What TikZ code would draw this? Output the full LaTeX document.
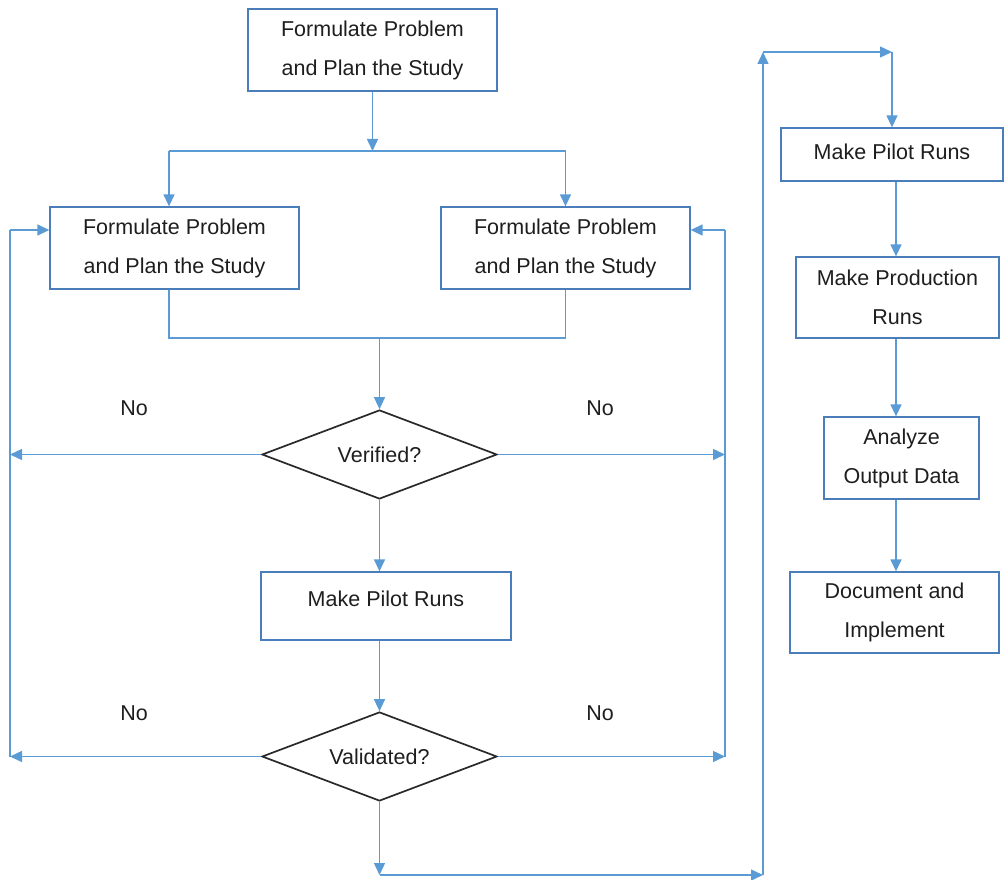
\documentclass[tikz,border=0pt]{standalone}
\usepackage{fontspec}
\setmainfont{Liberation Sans}
\usetikzlibrary{arrows.meta,shapes.geometric}
\definecolor{boxblue}{HTML}{4A7EBB}
\definecolor{linkblue}{HTML}{5B9BD5}
\definecolor{inkgray}{HTML}{1E1E1E}

\begin{document}
\begin{tikzpicture}[x=1pt,y=-1pt,
  every node/.style={font=\fontsize{21.5}{39}\selectfont, text=inkgray},
  stepbox/.style={draw=boxblue, line width=1.3pt, rectangle, inner sep=0pt, align=center},
  check/.style={draw=inkgray!95, line width=1.7pt, diamond, inner sep=0pt, shape aspect=2.64,
                minimum width=235pt, minimum height=89pt},
  link/.style={draw=linkblue, line width=1.4pt},
  flow/.style={link, -{Triangle[length=12pt,width=11pt]}}
]
\useasboundingbox (0,0) rectangle (1005,880);

% left-hand process column
\node[stepbox, minimum width=249pt, minimum height=82pt] (plan)  at (372.5,50)  {Formulate Problem\\and Plan the Study};
\node[stepbox, minimum width=249pt, minimum height=82pt] (planL) at (174.5,248) {Formulate Problem\\and Plan the Study};
\node[stepbox, minimum width=249pt, minimum height=82pt] (planR) at (565.5,248) {Formulate Problem\\and Plan the Study};
\node[check] (verif) at (379.5,454.5) {Verified?};
\node[stepbox, minimum width=250pt, text height=34pt, text depth=34pt] (pilotL) at (386,606) {Make Pilot Runs};
\node[check] (valid) at (379.5,756.5) {Validated?};

% right-hand process column
\node[stepbox, minimum width=222pt, minimum height=53pt, text depth=6pt] (pilotR) at (892,154.5) {Make Pilot Runs};
\node[stepbox, minimum width=203pt, minimum height=81pt] (prod) at (897.5,297.5) {Make Production\\Runs};
\node[stepbox, minimum width=155pt, minimum height=82pt] (anal) at (901.5,458) {Analyze\\Output Data};
\node[stepbox, minimum width=209pt, minimum height=81pt] (docu) at (894.5,612.5) {Document and\\Implement};

% decision labels
\node (noA) at (134,408) {No};
\node (noB) at (600,408) {No};
\node (noC) at (134,713) {No};
\node (noD) at (600,713) {No};

% routing points
\coordinate (splitT) at (372.5,151);
\coordinate (mergeR) at (565.5,338);
\coordinate (backL) at (10,230);
\coordinate (backR) at (725,230);
\coordinate (exitB) at (379.5,875);
\coordinate (riseB) at (763,875);
\coordinate (riseT) at (763,52);
\coordinate (topR)  at (892,52);
\coordinate (colx)  at (896,0);

% split into the two planning boxes
\draw[flow] (plan.south) -- (splitT);
\draw[link] ([xshift=-5.5pt]planL.north |- splitT) -- (planR.north |- splitT);
\draw[flow] ([xshift=-5.5pt]planL.north |- splitT) -- ([xshift=-5.5pt]planL.north);
\draw[flow] (planR.north |- splitT) -- (planR.north);

% merge into verification
\draw[link] ([xshift=-5.5pt]planL.south) |- (mergeR) -- (planR.south);
\draw[flow] (verif.north |- mergeR) -- (verif.north);

% "No" return loops
\draw[flow] (verif.west) -- (verif.west -| backL);
\draw[flow] (valid.west) -- (valid.west -| backL);
\draw[link] (valid.west -| backL) -- (backL);
\draw[flow] (backL) -- (backL -| planL.west);
\draw[flow] (verif.east) -- (verif.east -| backR);
\draw[flow] (valid.east) -- (valid.east -| backR);
\draw[link] (valid.east -| backR) -- (backR);
\draw[flow] (backR) -- (backR -| planR.east);

% main flow down the left column
\draw[flow] (verif.south) -- (verif.south |- pilotL.north);
\draw[flow] (valid.north |- pilotL.south) -- (valid.north);

% transfer to the right column
\draw[flow] (valid.south) -- (exitB);
\draw[flow] (exitB) -- (riseB);
\draw[flow] (riseB) -- (riseT);
\draw[flow] (riseT) -- (topR);
\draw[flow] (topR) -- (pilotR.north);

% right column sequence
\draw[flow] (pilotR.south -| colx) -- (prod.north -| colx);
\draw[flow] (prod.south -| colx) -- (anal.north -| colx);
\draw[flow] (anal.south -| colx) -- (docu.north -| colx);
\end{tikzpicture}
\end{document}
